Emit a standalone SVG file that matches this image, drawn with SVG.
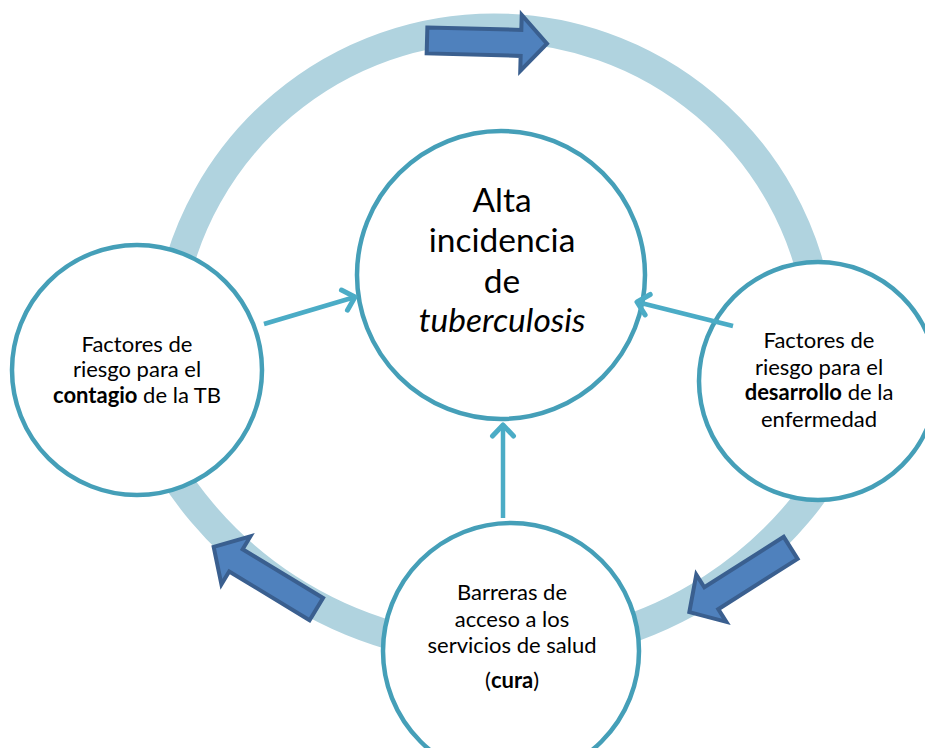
<svg xmlns="http://www.w3.org/2000/svg" width="925" height="748" viewBox="0 0 925 748">
<style>
.ring{fill:none;stroke:#B0D3DF;stroke-width:29;stroke-linejoin:round}
.node{fill:#FFFFFF;stroke:#459FB8;stroke-width:4.5}
.conn{fill:none;stroke:#4BACC6;stroke-width:4.5}
.blk{fill:#4F81BD;stroke:#3A5F8F;stroke-width:4;stroke-linejoin:miter}
.t{font-family:Lato,"Liberation Sans",sans-serif;fill:#000;text-anchor:middle}
.big{font-size:33.5px}
.sm{font-size:22px}
</style>
<defs>
<marker id="chev" markerUnits="userSpaceOnUse" markerWidth="30" markerHeight="30" viewBox="-18 -15 22 30" refX="0" refY="0" orient="auto">
<path d="M-11,-10.5 L0,0 L-11,10.5" fill="none" stroke="#4BACC6" stroke-width="5" stroke-linecap="round" stroke-linejoin="round"/>
</marker>
<path id="blockArrow" d="M-60,-13 L34,-13 L34,-28 L60,0 L34,28 L34,13 L-60,13 Z"/>
</defs>
<g id="cycle-ring">
<path class="ring" d="M170.8,300 A328,328 0 0 1 817.2,300 L856.1,420 A390,390 0 0 1 143.9,420 Z"/>
</g>
<g id="cycle-arrows">
<use href="#blockArrow" class="blk" transform="translate(487,42) rotate(1.5)"/>
<use href="#blockArrow" class="blk" transform="translate(740,580) rotate(147.6)"/>
<use href="#blockArrow" class="blk" transform="translate(265,578) rotate(211.2)"/>
</g>
<g id="node-center">
<circle class="node" cx="501" cy="275" r="144"/>
<text class="t big" x="502" y="212">Alta</text>
<text class="t big" x="502" y="252">incidencia</text>
<text class="t big" x="502" y="293">de</text>
<text class="t big" x="502" y="332" font-style="italic">tuberculosis</text>
</g>
<g id="node-contagio">
<circle class="node" cx="137" cy="370" r="125"/>
<text class="t sm" x="137" y="352">Factores de</text>
<text class="t sm" x="137" y="377">riesgo para el</text>
<text class="t sm" x="137" y="403"><tspan font-weight="bold">contagio</tspan> de la TB</text>
</g>
<g id="node-desarrollo">
<circle class="node" cx="818" cy="381" r="119"/>
<text class="t sm" x="819" y="348">Factores de</text>
<text class="t sm" x="819" y="375">riesgo para el</text>
<text class="t sm" x="819" y="400"><tspan font-weight="bold">desarrollo</tspan> de la</text>
<text class="t sm" x="819" y="427">enfermedad</text>
</g>
<g id="node-barreras">
<circle class="node" cx="511" cy="651" r="128"/>
<text class="t sm" x="512" y="600">Barreras de</text>
<text class="t sm" x="512" y="627">acceso a los</text>
<text class="t sm" x="512" y="653">servicios de salud</text>
<text class="t sm" x="512" y="688">(<tspan font-weight="bold">cura</tspan>)</text>
</g>
<g id="connectors">
<line class="conn" x1="264" y1="324" x2="355" y2="297" marker-end="url(#chev)"/>
<line class="conn" x1="733" y1="326" x2="637" y2="302" marker-end="url(#chev)"/>
<line class="conn" x1="503" y1="518" x2="503" y2="425" marker-end="url(#chev)"/>
</g>
</svg>
